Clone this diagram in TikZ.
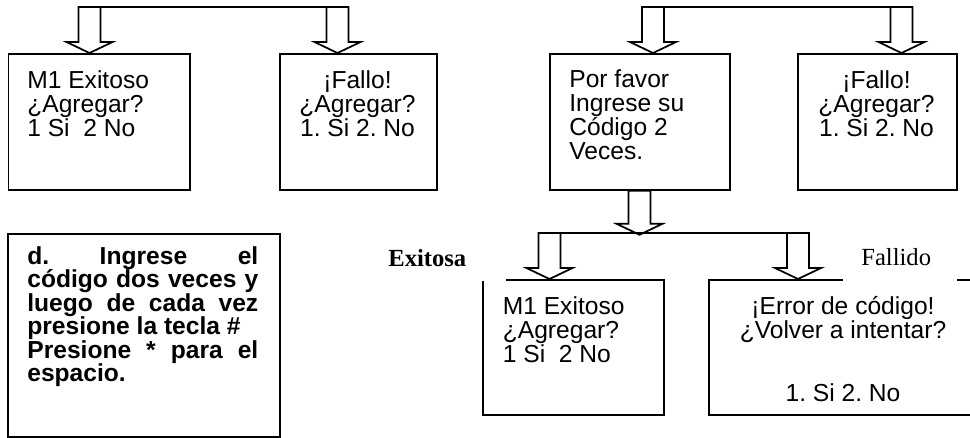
\documentclass[tikz,border=0pt]{standalone}
\usepackage{fontspec}
\setmainfont{Liberation Sans}
\newfontfamily\serifface{Liberation Serif}
\frenchspacing
\newcommand{\pxu}{0.02cm}
\newcommand{\hollowdown}[2]{%
  \draw[arrowline] #1 -- ++(-23,-11) -- ++(12,0) -- ++(0,-#2) -- ++(22,0)
    -- ++(0,#2) -- ++(12,0) -- cycle;}

\begin{document}
\begin{tikzpicture}[x=\pxu,y=-\pxu,
    screen/.style 2 args={draw,line width=1pt,inner sep=0,anchor=north west,
      minimum width=#1*\pxu,minimum height=#2*\pxu},
    arrowline/.style={line width=1pt,line join=miter},
    txt/.style={font=\fontsize{14}{13.66}\selectfont,inner sep=0},
    casetxt/.style={font=\serifface\fontsize{14}{16}\selectfont,inner sep=0,anchor=base west}]
  \useasboundingbox (0,0) rectangle (970,437);
  \clip (0,0) rectangle (970,437);

  \node[screen={181.5}{136}] (m1top) at (7.5,53) {};
  \node[screen={157}{136}] (fallo1) at (279,53) {};
  \node[screen={180}{136}] (codigo) at (549,53) {};
  \node[screen={159}{136}] (fallo2) at (797,53) {};
  \node[screen={272}{203}] (instr) at (7,233) {};
  \node[screen={181}{135}] (m1low) at (482,279) {};
  \node[screen={271}{135}] (errbox) at (708,279) {};

  % base of a multi-line text is its last line
  \node[txt,anchor=base west,align=left] (m1topTxt) at (27,136) {M1 Exitoso\\¿Agregar?\\1 Si\ \ 2 No};
  \node[txt,anchor=base,align=center] (fallo1Txt) at (357.5,136) {¡Fallo!\\¿Agregar?\\1. Si 2. No};
  \node[txt,anchor=base west,align=left] (codigoTxt) at (569,159) {Por favor\\Ingrese su\\Código 2\\Veces.};
  \node[txt,anchor=base,align=center] (fallo2Txt) at (876.5,136) {¡Fallo!\\¿Agregar?\\1. Si 2. No};
  \node[txt,anchor=base west,align=left] (m1lowTxt) at (502.5,362) {M1 Exitoso\\¿Agregar?\\1 Si\ \ 2 No};
  \node[txt,anchor=base,align=center] (errTxt) at (843,401) {¡Error de código!\\¿Volver a intentar?\\[22pt]1. Si 2. No};
  \node[txt,font=\bfseries\fontsize{14}{13.43}\selectfont,anchor=base west,text width=4.62cm,align=justify] (instrTxt) at (27,264)
    {d. Ingrese el\linebreak código dos veces y\linebreak luego de cada vez\linebreak presione la tecla \#\newline Presione * para el\linebreak espacio.};

  \coordinate (busA1) at (78.5,7);
  \coordinate (busA2) at (348.5,7);
  \coordinate (busB1) at (642,7);
  \coordinate (busB2) at (912.5,7);
  \coordinate (busC1) at (538.5,233);
  \coordinate (busC2) at (809,233);
  \draw[arrowline] (busA1) -- (busA2);
  \draw[arrowline] (busB1) -- (busB2);
  \draw[arrowline] (busC1) -- (busC2);

  \hollowdown{(m1top.north west) ++(82,0)}{35}
  \hollowdown{(fallo1.north west) ++(58.5,0)}{35}
  \hollowdown{(codigo.north west) ++(104,0)}{35}
  \hollowdown{(fallo2.north west) ++(104.5,0)}{35}
  \hollowdown{(codigo.south west) ++(90.5,44)}{33}
  \hollowdown{(m1low.north west) ++(67.5,0)}{35}
  \hollowdown{(errbox.north west) ++(90,0)}{35}

  % text boxes of the two labels hide part of the frames
  \fill[white] (470,275) rectangle (506,281);
  \fill[white] (843,275) rectangle (957,281);
  \node[casetxt,font=\serifface\bfseries\fontsize{14}{16}\selectfont] (exitosa) at (388,266) {Exitosa};
  \node[casetxt] (fallido) at (861,265) {Fallido};
\end{tikzpicture}
\end{document}
